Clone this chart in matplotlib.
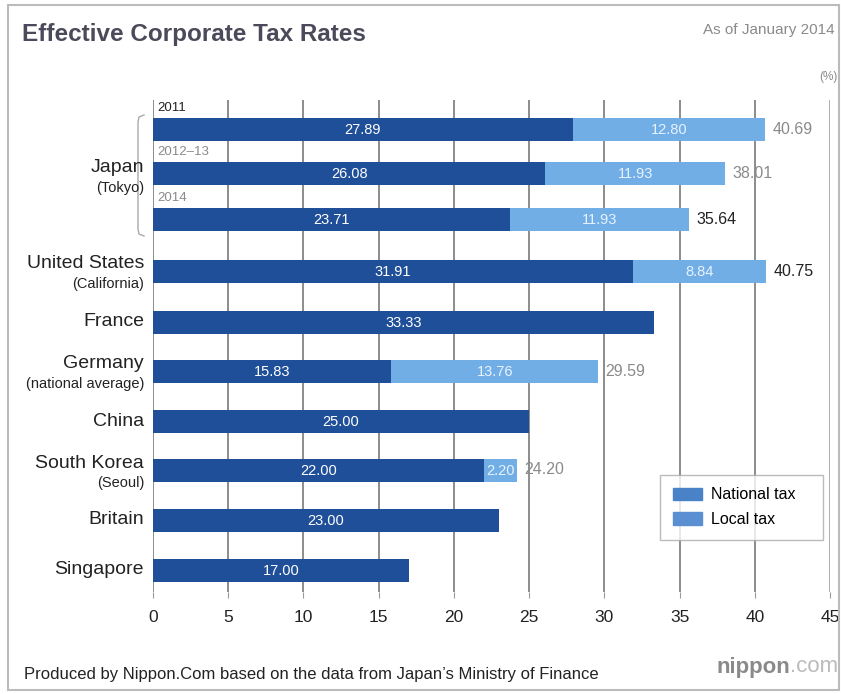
import numpy as np
import matplotlib
matplotlib.use("Agg")
import matplotlib.pyplot as plt
from matplotlib.patches import Patch, Rectangle

plt.rcParams['font.family'] = ['Liberation Sans', 'DejaVu Sans']

# data (percent)
labels = ["Japan", "", "", "United States", "France", "Germany", "China",
          "South Korea", "Britain", "Singapore"]
sublabels = ["(Tokyo)", "", "", "(California)", "", "(national average)", "",
             "(Seoul)", "", ""]
years = ["2011", "2012\u201313", "2014", "", "", "", "", "", "", ""]
national = [27.89, 26.08, 23.71, 31.91, 33.33, 15.83, 25.00, 22.00, 23.00, 17.00]
local = [12.80, 11.93, 11.93, 8.84, 0, 13.76, 0, 2.20, 0, 0]
totals = ["40.69", "38.01", "35.64", "40.75", "", "29.59", "", "24.20", "", ""]
ticks = [0, 5, 10, 15, 20, 25, 30, 35, 40, 45]

# layout: bar centres in pixel rows of the original picture
ypos = [129, 173, 219, 271, 322, 371, 421, 470, 520, 570]
total_col = ["#8a8a8a", "#8a8a8a", "#222222", "#222222", "", "#8a8a8a", "",
             "#8a8a8a", "", ""]
year_col = ["#222222", "#8a8a8a", "#8a8a8a"]

dark = "#1f4f98"
light = "#72aee6"

fig = plt.figure(figsize=(8.41, 6.94), dpi=100)
W, H = 841, 694
ax = fig.add_axes([153 / W, 1 - 592 / H, (830 - 153) / W, (592 - 100) / H])

ax.set_xlim(0, 45)
ax.set_ylim(592, 100)
for t in ticks:
    ax.axvline(t, color="#999999" if t == 45 else "#6e6e6e", lw=1.1, zorder=0)

bh = 23
ax.barh(ypos, national, height=bh, color=dark, zorder=2)
ax.barh(ypos, local, left=national, height=bh, color=light, zorder=2)

for i in range(len(ypos)):
    ax.text(national[i] / 2, ypos[i] + 1, "%.2f" % national[i], color="white",
            ha="center", va="center", fontsize=10.5, zorder=3)
    if local[i] > 0:
        ax.text(national[i] + local[i] / 2, ypos[i] + 1, "%.2f" % local[i],
                color="#e8f2ff", ha="center", va="center", fontsize=10.5, zorder=3)
    if totals[i]:
        ax.text(national[i] + local[i] + 0.5, ypos[i], totals[i], color=total_col[i],
                ha="left", va="center", fontsize=11.5, zorder=3)
    if years[i]:
        ax.text(0.3, ypos[i] - 21, years[i], color=year_col[i], ha="left",
                va="center", fontsize=9.5, zorder=3,
                bbox=dict(facecolor="white", edgecolor="none", pad=0.3))

ax.set_yticks([])
ax.set_xticks(ticks)
ax.set_xticklabels([str(t) for t in ticks], fontsize=12.5, color="#222222")
ax.tick_params(axis="x", length=4, pad=9, color="#999999")
for s in ax.spines.values():
    s.set_visible(False)

# category labels
for i in range(len(ypos)):
    if not labels[i]:
        continue
    y = ypos[i]
    if i == 0:
        y = ypos[1] + 2
    if sublabels[i]:
        fig.text(144 / W, 1 - (y - 7) / H, labels[i], ha="right", va="center",
                 fontsize=14, color="#222222")
        fig.text(144 / W, 1 - (y + 13) / H, sublabels[i], ha="right", va="center",
                 fontsize=10.5, color="#222222")
    else:
        fig.text(144 / W, 1 - y / H, labels[i], ha="right", va="center",
                 fontsize=14, color="#222222")

# bracket for Japan
bx = 138
by = [115, 236]
fig.add_artist(plt.Line2D([(bx + 6) / W, (bx + 1) / W, bx / W, bx / W, (bx + 1) / W, (bx + 6) / W],
                          [1 - by[0] / H, 1 - (by[0] + 2) / H, 1 - (by[0] + 7) / H,
                           1 - (by[1] - 7) / H, 1 - (by[1] - 2) / H, 1 - by[1] / H],
                          color="#aaaaaa", lw=1))

leg = ax.legend(handles=[Patch(color="#4a82c8", label="National tax"),
                         Patch(color="#5a8fd2", label="Local tax")],
                loc="lower left", bbox_to_anchor=(0.749, 0.106, 0.241, 0.132),
                mode="expand", fontsize=11.5, frameon=True, fancybox=False,
                edgecolor="#aaaaaa", handlelength=1.8, handleheight=0.8,
                borderpad=0.8, labelspacing=0.6, handletextpad=0.6,
                borderaxespad=0)
leg.get_frame().set_linewidth(1)
leg.set_zorder(5)

fig.text(22 / W, 1 - 35 / H, "Effective Corporate Tax Rates", fontsize=17.5,
         fontweight="bold", color="#4a4a5a", va="center", ha="left")
fig.text(835 / W, 1 - 30 / H, "As of January 2014", fontsize=11, color="#8a8a8a",
         va="center", ha="right")
fig.text(838 / W, 1 - 77 / H, "(%)", fontsize=8.5, color="#8a8a8a", va="center",
         ha="right")
fig.text(24 / W, 1 - 675 / H,
         "Produced by Nippon.Com based on the data from Japan\u2019s Ministry of Finance",
         fontsize=12, color="#222222", va="center", ha="left")
fig.text(790 / W, 1 - 667 / H, "nippon", fontsize=16, fontweight="bold",
         color="#8a8a8a", va="center", ha="right")
fig.text(790 / W, 1 - 667 / H, ".com", fontsize=16, color="#bbbbbb",
         va="center", ha="left")

fig.add_artist(Rectangle((8 / W, 4 / H), 1 - 10 / W, 1 - 9 / H,
                         transform=fig.transFigure, fill=False,
                         edgecolor="#bbbbbb", lw=1.5))

fig.savefig("out.png", dpi=100)
